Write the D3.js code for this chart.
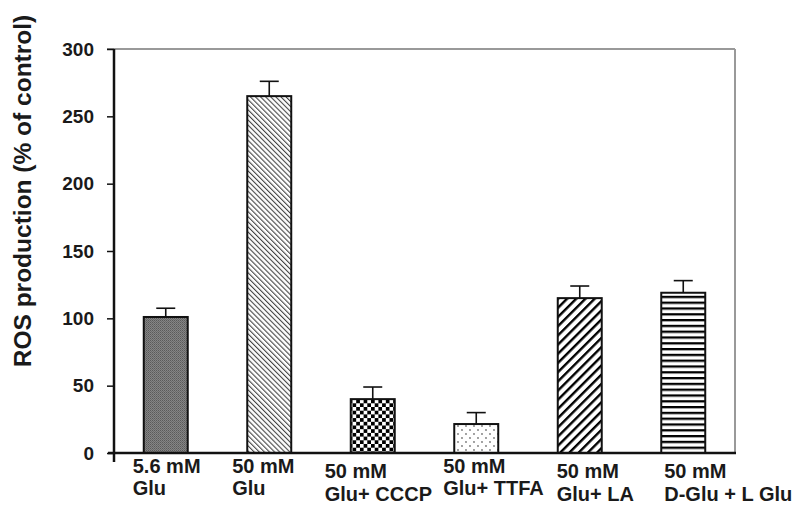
<!DOCTYPE html>
<html>
<head>
<meta charset="utf-8">
<script src="https://cdn.jsdelivr.net/npm/d3@7"></script>
<style>
  html, body { margin: 0; padding: 0; background: #fff; }
  svg { display: block; }
  text { font-family: "Liberation Sans", Arial, sans-serif; font-weight: bold; fill: #1a1a1a; }
</style>
</head>
<body>
<svg id="chart" width="800" height="516"></svg>
<script>
// ---- data ----
const categories = ["5.6 mM Glu", "50 mM Glu", "50 mM Glu+ CCCP", "50 mM Glu+ TTFA", "50 mM Glu+ LA", "50 mM D-Glu + L Glu"];
const labelLine1 = ["5.6 mM", "50 mM", "50 mM", "50 mM", "50 mM", "50 mM"];
const labelLine2 = ["Glu", "Glu", "Glu+ CCCP", "Glu+ TTFA", "Glu+ LA", "D-Glu + L Glu"];
const values = [101, 265, 40, 21.5, 115, 119];
const errors = [6.5, 11, 9, 8.5, 9, 9];
const yTicks = [0, 50, 100, 150, 200, 250, 300];
const yTitle = "ROS production (% of control)";

// ---- layout (not data) ----
const labelDx = [-11, -15, -26, -11, -1, 3];
const labelRow = [0, 0, 1, 0, 1, 1];
const patternIds = ["pGray", "pFineDiag", "pChecker", "pDots", "pBoldDiag", "pHoriz"];

const svg = d3.select("#chart");
const x0 = 114, x1 = 735, yTop = 49, yBot = 453;

const x = d3.scaleBand().domain(categories).range([x0, x1]).paddingInner(0.575).paddingOuter(0.2875);
const y = d3.scaleLinear().domain([0, 300]).range([yBot, yTop]);

// ---- patterns ----
const defs = svg.append("defs");
let p = defs.append("pattern").attr("id", "pGray").attr("patternUnits", "userSpaceOnUse").attr("width", 2).attr("height", 2);
p.append("rect").attr("width", 2).attr("height", 2).attr("fill", "#858585");
p.append("rect").attr("width", 1).attr("height", 1).attr("fill", "#5a5a5a");
p.append("rect").attr("x", 1).attr("y", 1).attr("width", 1).attr("height", 1).attr("fill", "#6a6a6a");

p = defs.append("pattern").attr("id", "pFineDiag").attr("patternUnits", "userSpaceOnUse")
  .attr("width", 3.6).attr("height", 10).attr("patternTransform", "rotate(-45)");
p.append("rect").attr("width", 3.6).attr("height", 10).attr("fill", "#fff");
p.append("rect").attr("width", 1.1).attr("height", 10).attr("fill", "#444");

p = defs.append("pattern").attr("id", "pChecker").attr("patternUnits", "userSpaceOnUse")
  .attr("width", 7.4).attr("height", 7.4).attr("x", 1).attr("y", 0);
p.append("rect").attr("width", 7.4).attr("height", 7.4).attr("fill", "#fff");
p.append("rect").attr("width", 3.7).attr("height", 3.7).attr("fill", "#000");
p.append("rect").attr("x", 3.7).attr("y", 3.7).attr("width", 3.7).attr("height", 3.7).attr("fill", "#000");

p = defs.append("pattern").attr("id", "pDots").attr("patternUnits", "userSpaceOnUse").attr("width", 8).attr("height", 8);
p.append("rect").attr("width", 8).attr("height", 8).attr("fill", "#fff");
p.append("circle").attr("cx", 2).attr("cy", 2).attr("r", 0.9).attr("fill", "#777");
p.append("circle").attr("cx", 6).attr("cy", 6).attr("r", 0.9).attr("fill", "#777");

p = defs.append("pattern").attr("id", "pBoldDiag").attr("patternUnits", "userSpaceOnUse")
  .attr("width", 6.5).attr("height", 10).attr("patternTransform", "rotate(45)");
p.append("rect").attr("width", 6.5).attr("height", 10).attr("fill", "#fff");
p.append("rect").attr("width", 2.4).attr("height", 10).attr("fill", "#000");

p = defs.append("pattern").attr("id", "pHoriz").attr("patternUnits", "userSpaceOnUse").attr("width", 10).attr("height", 5.8);
p.append("rect").attr("width", 10).attr("height", 5.8).attr("fill", "#fff");
p.append("rect").attr("y", 0).attr("width", 10).attr("height", 2.3).attr("fill", "#000");

// ---- frame ----
svg.append("line").attr("x1", 107).attr("x2", x1).attr("y1", yTop).attr("y2", yTop)
  .attr("stroke", "#999").attr("stroke-width", 2);
svg.append("line").attr("x1", x1).attr("x2", x1).attr("y1", yTop).attr("y2", yBot)
  .attr("stroke", "#999").attr("stroke-width", 2);

// ---- bars ----
const bw = x.bandwidth();
const g = svg.append("g");
g.selectAll("rect.bar").data(categories).join("rect")
  .attr("class", "bar")
  .attr("x", d => x(d))
  .attr("y", (d, i) => y(values[i]))
  .attr("width", bw)
  .attr("height", (d, i) => y(0) - y(values[i]))
  .attr("fill", (d, i) => `url(#${patternIds[i]})`)
  .attr("stroke", "#111").attr("stroke-width", 2);

// ---- error bars ----
const capW = 19;
g.selectAll("line.err").data(categories).join("line")
  .attr("class", "err")
  .attr("x1", d => x(d) + bw / 2).attr("x2", d => x(d) + bw / 2)
  .attr("y1", (d, i) => y(values[i])).attr("y2", (d, i) => y(values[i] + errors[i]))
  .attr("stroke", "#111").attr("stroke-width", 1.6);
g.selectAll("line.cap").data(categories).join("line")
  .attr("class", "cap")
  .attr("x1", d => x(d) + bw / 2 - capW / 2).attr("x2", d => x(d) + bw / 2 + capW / 2)
  .attr("y1", (d, i) => y(values[i] + errors[i])).attr("y2", (d, i) => y(values[i] + errors[i]))
  .attr("stroke", "#111").attr("stroke-width", 1.6);

// ---- axes ----
const yAxis = d3.axisLeft(y).tickValues(yTicks).tickSize(7).tickPadding(13).tickFormat(d3.format("d"));
const ya = svg.append("g").attr("transform", `translate(${x0},0)`).call(yAxis);
ya.select(".domain").remove();
ya.selectAll(".tick line").attr("stroke", "#111").attr("stroke-width", 1.5);
ya.selectAll(".tick text").attr("font-size", 19).attr("font-family", "Liberation Sans, Arial, sans-serif")
  .attr("font-weight", "bold").attr("fill", "#1a1a1a");
svg.append("line").attr("x1", x0).attr("x2", x0).attr("y1", yTop).attr("y2", 462)
  .attr("stroke", "#111").attr("stroke-width", 2.5);
svg.append("line").attr("x1", 108).attr("x2", x1 + 1).attr("y1", yBot).attr("y2", yBot)
  .attr("stroke", "#111").attr("stroke-width", 2.5);

// ---- y title ----
svg.append("text")
  .attr("transform", `translate(31,${191}) rotate(-90)`)
  .attr("text-anchor", "middle")
  .attr("font-size", 24.5)
  .text(yTitle);

// ---- x labels ----
const rowBase = [[473, 495], [478, 501]];
const lab = svg.append("g");
categories.forEach((c, i) => {
  const lx = x(c) + labelDx[i];
  const rb = rowBase[labelRow[i]];
  lab.append("text").attr("x", lx).attr("y", rb[0]).attr("font-size", 20).text(labelLine1[i]);
  lab.append("text").attr("x", lx).attr("y", rb[1]).attr("font-size", 20).text(labelLine2[i]);
});
</script>
</body>
</html>
